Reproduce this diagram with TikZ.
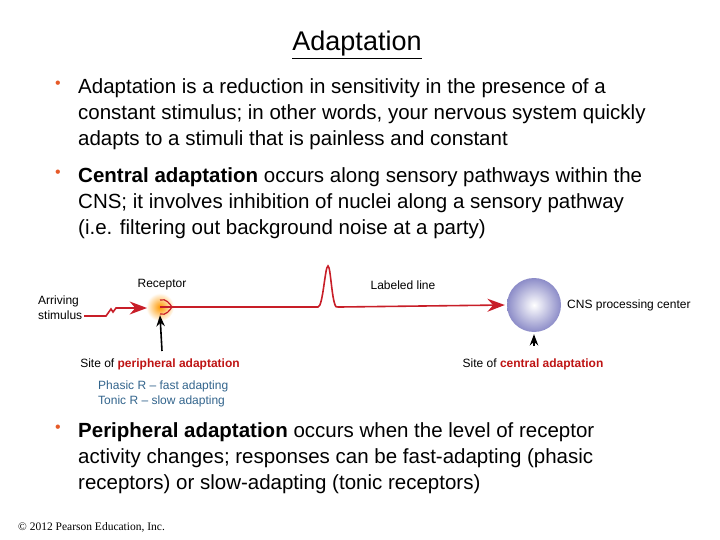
\documentclass[tikz,border=0pt]{standalone}
\usepackage{fontspec}
\setmainfont{Liberation Sans}
\newfontfamily\timesfont{Liberation Serif}
\usetikzlibrary{positioning,arrows.meta}
\definecolor{nerve}{RGB}{200,30,40}
\definecolor{bulletc}{RGB}{230,90,40}
\definecolor{teal}{RGB}{50,100,140}
\definecolor{darkred}{RGB}{190,20,20}
\definecolor{lav}{RGB}{140,140,200}
\tikzset{
  bodytext/.style={anchor=north west,align=left,font=\fontsize{20.5}{26.2}\selectfont,inner sep=0pt},
  bul/.style={anchor=north west,text=bulletc,font=\fontsize{16}{20}\selectfont,inner sep=0pt},
  small/.style={font=\fontsize{12}{14.5}\selectfont,inner sep=0pt},
  nervearrow/.style={nerve,line width=1.6pt,-{Stealth[scale=1.7]}},
  sitearrow/.style={black,line width=1.6pt,-{Stealth[scale=1.1]}}
}
\begin{document}
\begin{tikzpicture}[x=1pt,y=-1pt]
\useasboundingbox (0,0) rectangle (720,540);
% title
\node (title) [font=\fontsize{27}{30}\selectfont] at (357,45) {\underline{Adaptation}};
% bullets
\node (b1) [bul] at (55,81) {•};
\node (t1) [bodytext] at (78,78) {Adaptation is a reduction in sensitivity in the presence of a\\constant stimulus; in other words, your nervous system quickly\\adapts to a stimuli that is painless and constant};
\node (b2) [bul] at (55,170) {•};
\node (t2) [bodytext] at (78,167) {\textbf{Central adaptation} occurs along sensory pathways within the\\CNS; it involves inhibition of nuclei along a sensory pathway\\(i.e. filtering out background noise at a party)};
\node (b3) [bul] at (55,425) {•};
\node (t3) [bodytext] at (78,422) {\textbf{Peripheral adaptation} occurs when the level of receptor\\activity changes; responses can be fast-adapting (phasic\\receptors) or slow-adapting (tonic receptors)};
% diagram
\shade[inner color=orange!80!yellow,outer color=white] (160,307) circle (14);
\node (rec) [circle,inner sep=0pt,minimum size=16pt] at (160,307) {};
\draw[nerve,line width=1.2pt] (160,300) .. controls (166,298) and (170,304) .. (172,307)
  .. controls (170,310) and (166,316) .. (160,314);
\draw[nerve,line width=1.2pt] (160,307) -- (172,307);
\draw[nerve,line width=1.6pt] (172,307) -- (318,307) .. controls (323,307) and (325,266) .. (328,266)
  .. controls (331,266) and (332,312) .. (338,307) -- (340,307);
\shade[inner color=white,outer color=lav] (534,305) circle (27);
\node (cns) [circle,inner sep=0pt,minimum size=58pt] at (534,305) {};
\draw[nervearrow] (340,307) -- (cns.west);
\coordinate (stim) at (84,316);
\coordinate (stimend) at (147,308);
\draw[nervearrow] (stim) -- (106,316) -- (111,309) -- (113,312) -- (116,308) -- (stimend);
\node (reclab) [small] at (162,285) {Receptor};
\node (linelab) [small] at (403,285) {Labeled line};
\node (arr) [small,anchor=north west,align=left] at (38,296) {Arriving\\stimulus};
\node (cnslab) [small,anchor=west] at (567,305) {CNS processing center};
\node (peri) [small] at (160,364) {Site of \textcolor{darkred}{\textbf{peripheral adaptation}}};
\node (cent) [small] at (533,364) {Site of \textcolor{darkred}{\textbf{central adaptation}}};
\draw[sitearrow] (162,351) -- (rec.south);
\draw[sitearrow] (534,346) -- (cns.south);
\node (types) [small,anchor=north west,align=left,text=teal] at (98,381) {Phasic R -- fast adapting\\Tonic R -- slow adapting};
\node (copy) [anchor=west,font=\timesfont\fontsize{11.5}{14}\selectfont,inner sep=0pt] at (18,527) {© 2012 Pearson Education, Inc.};
\end{tikzpicture}
\end{document}
